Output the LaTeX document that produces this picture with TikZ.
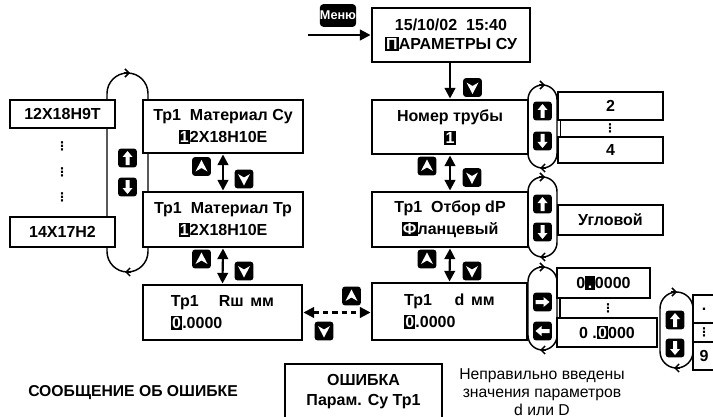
\documentclass[tikz,border=0pt]{standalone}
\usepackage{fontspec}
\setmainfont{Liberation Sans}
\newfontfamily\dejavu{DejaVu Sans}
\usetikzlibrary{arrows.meta}
\newcommand\hlc[1]{{\setlength\fboxsep{0.9pt}\colorbox{black}{\vphantom{0}\color{white}#1}}}
\newcommand\bx[7][]{%
  \pgfmathsetmacro\bxcx{(#3+#5)/2}\pgfmathsetmacro\bxcy{(#4+#6)/2}%
  \pgfmathsetmacro\bxw{(#5-#3)*0.75}\pgfmathsetmacro\bxh{(#6-#4)*0.75}%
  \node[box,minimum width=\bxw pt,minimum height=\bxh pt,#1] (#2) at (\bxcx,\bxcy) {#7};}
\newcommand\btnA[2]{\node[btn] (#1) at (#2) {};
  \fill[white,shift={(#1.center)}] (0,-6.5) -- (6,5) -- (0,1.5) -- (-6,5) -- cycle;}
\newcommand\btnV[2]{\node[btn] (#1) at (#2) {};
  \fill[white,shift={(#1.center)}] (0,6.5) -- (6,-5) -- (0,-1.5) -- (-6,-5) -- cycle;}
\newcommand\btnU[2]{\node[btn] (#1) at (#2) {};
  \fill[white,shift={(#1.center)}] (0,-7) -- (5,-1) -- (2,-1) -- (2,7) -- (-2,7) -- (-2,-1) -- (-5,-1) -- cycle;}
\newcommand\btnD[2]{\node[btn] (#1) at (#2) {};
  \fill[white,shift={(#1.center)}] (0,7) -- (5,1) -- (2,1) -- (2,-7) -- (-2,-7) -- (-2,1) -- (-5,1) -- cycle;}
\newcommand\btnR[2]{\node[btn] (#1) at (#2) {};
  \fill[white,shift={(#1.center)}] (7,0) -- (1,-5) -- (1,-2) -- (-7,-2) -- (-7,2) -- (1,2) -- (1,5) -- cycle;}
\newcommand\btnL[2]{\node[btn] (#1) at (#2) {};
  \fill[white,shift={(#1.center)}] (-7,0) -- (-1,-5) -- (-1,-2) -- (7,-2) -- (7,2) -- (-1,2) -- (-1,5) -- cycle;}
\tikzset{
 box/.style={draw, line width=2.2pt, fill=white, inner sep=0pt, align=center, font=\fontsize{12}{16.5}\selectfont\bfseries},
 lbox/.style={align=left},
 btn/.style={fill=black, rounded corners=2pt, minimum width=14pt, minimum height=14pt, inner sep=0pt},
 menu/.style={fill=black, text=white, rounded corners=2.5pt, inner sep=0pt, minimum width=27pt, minimum height=17pt, font=\fontsize{9.5}{11}\selectfont\bfseries},
 arr/.style={line width=1.6pt, -{Triangle[length=8pt,width=8pt]}},
 darr/.style={line width=1.6pt, {Triangle[length=8pt,width=8pt]}-{Triangle[length=8pt,width=8pt]}},
 loopl/.style={line width=1.1pt},
 looptip/.style={line width=1.1pt, -{Straight Barb[length=3pt,width=6pt]}},
 conn/.style={line width=1.1pt},
 vdots/.style={font=\dejavu\bfseries\fontsize{9}{9}\selectfont, inner sep=0pt},
 btext/.style={font=\fontsize{11.8}{14}\selectfont\bfseries},
 note/.style={align=center, font=\fontsize{11.8}{13.6}\selectfont},
}
\begin{document}
\begin{tikzpicture}[x=0.75pt,y=-0.75pt]
\useasboundingbox (0,0) rectangle (713,417);

% loops (behind boxes)
\draw[loopl, rounded corners=15.4pt] (107,73) rectangle (148,272);
\draw[looptip] (124,73) -- (130,73);
\draw[looptip] (131,272) -- (125,272);
\draw[loopl, rounded corners=10.9pt] (528,85) rectangle (557,168);
\draw[looptip] (539,85) -- (545,85);
\draw[looptip] (546,168) -- (540,168);
\draw[loopl, rounded corners=10.9pt] (528,177) rectangle (557,257);
\draw[looptip] (539,177) -- (545,177);
\draw[looptip] (546,257) -- (540,257);
\draw[loopl, rounded corners=10.9pt] (528,267) rectangle (557,350);
\draw[looptip] (539,267) -- (545,267);
\draw[looptip] (546,350) -- (540,350);
\draw[loopl, rounded corners=12.4pt] (660,292) rectangle (693,368);
\draw[looptip] (671,292) -- (677,292);
\draw[looptip] (680,368) -- (674,368);

% menu and top
\node[menu] (menu) at (338,15.5) {Меню};
\coordinate (mstart) at (308,35);
\bx[font=\fontsize{12}{13.8}\selectfont\bfseries]{top}{372}{8}{530}{62}{15/10/02\ \ 15:40\\\hlc{П}АРАМЕТРЫ СУ}
\draw[arr] (mstart) -- (mstart -| top.west);

% right column
\bx{num}{372}{100}{528}{154}{Номер трубы\\\hlc{1}}
\bx{otb}{372}{192}{528}{247}{Тр1\ \ Отбор dP\\\hlc{Ф}ланцевый}
\bx[lbox]{dbox}{372}{283}{527}{340}{Тр1\hspace{17pt}d\hspace{5pt}мм\\\hlc{0}.0000}
\draw[arr] (num.north |- top.south) -- (num.north);
\btnV{bv0}{472.5,87.5}
\draw[darr] (num.south) -- (otb.north);
\btnA{ba1}{427,166}
\btnV{bv1}{472,177.5}
\draw[darr] (otb.south) -- (dbox.north);
\btnA{ba2}{427,259}
\btnV{bv2}{472,271}

% left column
\bx{msu}{143}{100}{303}{153}{Тр1\ \ Материал Су\\\hlc{1}2X18H10E}
\bx{mtr}{143}{192}{303}{247}{Тр1\ \ Материал Тр\\\hlc{1}2X18H10E}
\bx[lbox]{rsh}{143}{285}{302}{340}{Тр1\hspace{15pt}Rш\hspace{5pt}мм\\\hlc{0}.0000}
\draw[darr] (msu.south) -- (mtr.north);
\btnA{ba3}{201.5,166.5}
\btnV{bv3}{244,179}
\draw[darr] (mtr.south) -- (rsh.north);
\btnA{ba4}{201.5,259}
\btnV{bv4}{244,271}
\draw[darr, dash pattern=on 4pt off 3pt] (rsh.east) -- (rsh.east -| dbox.west);
\btnA{ba5}{351.5,296}
\btnV{bv5}{324,331}

% left list
\bx{s1}{10}{100}{115}{128}{12X18H9T}
\bx{s2}{10}{217}{115}{247}{14X17H2}
\node[vdots] (dl1) at (62,146) {⋮};
\node[vdots] (dl2) at (62,172) {⋮};
\node[vdots] (dl3) at (62,197) {⋮};
\btnU{bu1}{127.5,158}
\btnD{bd1}{127.5,187}

% number list
\bx{b2}{558}{92}{663}{120}{2}
\bx{b4}{558}{137}{663}{163}{4}
\draw[conn] ([xshift=3pt]b2.south west) -- ([xshift=3pt]b4.north west);
\node[vdots] (dn) at (610,128) {⋮};
\btnU{bu2}{542.5,111}
\btnD{bd2}{542.5,141}

% type list
\bx{ug}{558}{205}{663}{235}{Угловой}
\btnU{bu3}{542.5,204}
\btnD{bd3}{542.5,232}

% digit entry
\bx{za}{557}{268}{650}{298}{0\hlc{\makebox[0.45em]{.}}0000}
\bx{zb}{557}{318}{657}{347}{0 .\hlc{0}000}
\draw[conn] ([xshift=3.5pt]za.south west) -- ([xshift=3.5pt]zb.north west);
\node[vdots] (dz) at (608,308) {⋮};
\btnR{br1}{542.5,302}
\btnL{bl1}{542.5,331}

% far right
\bx{fr1}{693}{295}{715}{323}{.}
\bx{fr2}{693}{323}{715}{342}{}
\node[vdots] (dfr) at (704,332.5) {⋮};
\bx{fr3}{693}{342}{715}{370}{9}
\btnU{bu4}{675,320}
\btnD{bd4}{675,348}

% error
\node[btext] (errlbl) at (133,393) {СООБЩЕНИЕ ОБ ОШИБКЕ};
\bx[font=\fontsize{12}{15}\selectfont\bfseries]{err}{285}{364}{442}{420}{ОШИБКА\\Парам. Су Тр1}
\node[note] (errmsg) at (542,392) {Неправильно введены\\значения параметров\\d или D};
\end{tikzpicture}
\end{document}
